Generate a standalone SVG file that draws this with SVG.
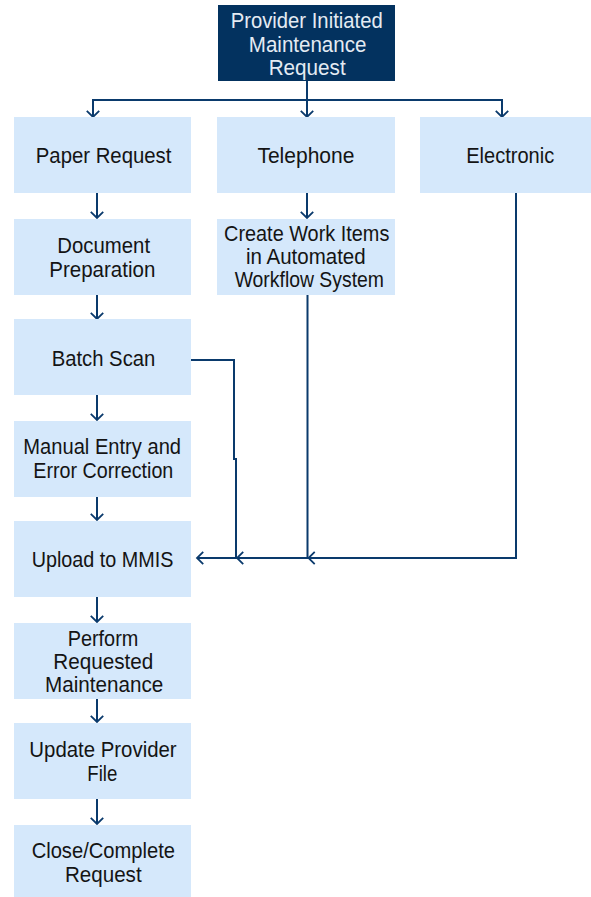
<svg xmlns="http://www.w3.org/2000/svg" width="591" height="897" viewBox="0 0 591 897">
  <style>
    .box { fill: #d5e8fb; }
    .head { fill: #03325f; }
    text { font-family: "Liberation Sans", Arial, sans-serif; font-size: 22.5px; text-anchor: middle; fill: #141414; }
    .head-text { fill: #e4ebf3; }
    .wire { fill: none; stroke: #0a3a6c; stroke-width: 2; }
  </style>
  <defs>
    <marker id="arrow" markerUnits="userSpaceOnUse" markerWidth="16" markerHeight="16" viewBox="-9 -9 11 18" refX="0" refY="0" orient="auto">
      <path d="M-7,-7 L0,0 L-7,7" fill="none" stroke="#0a3a6c" stroke-width="2"/>
    </marker>
  </defs>

  <rect width="591" height="897" fill="#ffffff"/>

  <g id="connectors">
    <!-- fan-out from the request -->
    <path class="wire" d="M307,81 V100 H93 V117" marker-end="url(#arrow)"/>
    <path class="wire" d="M307,81 V117" marker-end="url(#arrow)"/>
    <path class="wire" d="M307,81 V100 H502 V117" marker-end="url(#arrow)"/>
    <!-- paper column -->
    <path class="wire" d="M97,193 V218" marker-end="url(#arrow)"/>
    <path class="wire" d="M97,295 V319" marker-end="url(#arrow)"/>
    <path class="wire" d="M97,395 V420" marker-end="url(#arrow)"/>
    <path class="wire" d="M97,497 V520" marker-end="url(#arrow)"/>
    <path class="wire" d="M97,597 V622" marker-end="url(#arrow)"/>
    <path class="wire" d="M97,699 V722" marker-end="url(#arrow)"/>
    <path class="wire" d="M97,799 V824" marker-end="url(#arrow)"/>
    <!-- telephone column -->
    <path class="wire" d="M307,193 V218" marker-end="url(#arrow)"/>
    <!-- merges into upload -->
    <path class="wire" d="M191,360 H234 V459 H236 V558 H197" marker-end="url(#arrow)"/>
    <path class="wire" d="M307.5,294 V558 H237" marker-end="url(#arrow)"/>
    <path class="wire" d="M516,193 V558 H308.5" marker-end="url(#arrow)"/>
  </g>

  <g id="request">
    <rect class="head" x="218" y="5" width="177" height="76"/>
    <text class="head-text" x="306.7" y="28" textLength="152" lengthAdjust="spacingAndGlyphs">Provider Initiated</text>
    <text class="head-text" x="307.6" y="51.5" textLength="117.6" lengthAdjust="spacingAndGlyphs">Maintenance</text>
    <text class="head-text" x="307.2" y="75" textLength="77" lengthAdjust="spacingAndGlyphs">Request</text>
  </g>

  <g id="paper-request">
    <rect class="box" x="14" y="117" width="177" height="76"/>
    <text x="103.6" y="163" textLength="135.7" lengthAdjust="spacingAndGlyphs">Paper Request</text>
  </g>
  <g id="telephone">
    <rect class="box" x="217" y="117" width="178" height="76"/>
    <text x="305.9" y="163" textLength="97" lengthAdjust="spacingAndGlyphs">Telephone</text>
  </g>
  <g id="electronic">
    <rect class="box" x="420" y="117" width="171" height="76"/>
    <text x="510.2" y="163" textLength="88" lengthAdjust="spacingAndGlyphs">Electronic</text>
  </g>

  <g id="document-preparation">
    <rect class="box" x="14" y="219" width="177" height="76"/>
    <text x="103.7" y="252.5" textLength="92.7" lengthAdjust="spacingAndGlyphs">Document</text>
    <text x="102.3" y="276.5" textLength="106" lengthAdjust="spacingAndGlyphs">Preparation</text>
  </g>
  <g id="create-work-items">
    <rect class="box" x="217" y="219" width="178" height="76"/>
    <text x="306.7" y="240.5" textLength="165.3" lengthAdjust="spacingAndGlyphs">Create Work Items</text>
    <text x="305.8" y="264" textLength="119.7" lengthAdjust="spacingAndGlyphs">in Automated</text>
    <text x="309.3" y="287.3" textLength="149.3" lengthAdjust="spacingAndGlyphs">Workflow System</text>
  </g>

  <g id="batch-scan">
    <rect class="box" x="14" y="319" width="177" height="76"/>
    <text x="103.5" y="365.5" textLength="103.7" lengthAdjust="spacingAndGlyphs">Batch Scan</text>
  </g>
  <g id="manual-entry">
    <rect class="box" x="14" y="421" width="177" height="76"/>
    <text x="102.2" y="454" textLength="157.7" lengthAdjust="spacingAndGlyphs">Manual Entry and</text>
    <text x="103.3" y="478" textLength="140" lengthAdjust="spacingAndGlyphs">Error Correction</text>
  </g>
  <g id="upload-to-mmis">
    <rect class="box" x="14" y="521" width="177" height="76"/>
    <text x="102.5" y="567" textLength="141.7" lengthAdjust="spacingAndGlyphs">Upload to MMIS</text>
  </g>
  <g id="perform-maintenance">
    <rect class="box" x="14" y="623" width="177" height="76"/>
    <text x="103" y="645.5" textLength="70.7" lengthAdjust="spacingAndGlyphs">Perform</text>
    <text x="103.3" y="668.5" textLength="100" lengthAdjust="spacingAndGlyphs">Requested</text>
    <text x="104.2" y="691.5" textLength="118.3" lengthAdjust="spacingAndGlyphs">Maintenance</text>
  </g>
  <g id="update-provider-file">
    <rect class="box" x="14" y="723" width="177" height="76"/>
    <text x="103" y="757.3" textLength="147.3" lengthAdjust="spacingAndGlyphs">Update Provider</text>
    <text x="102.3" y="781" textLength="30" lengthAdjust="spacingAndGlyphs">File</text>
  </g>
  <g id="close-request">
    <rect class="box" x="14" y="825" width="177" height="72"/>
    <text x="103.3" y="858.3" textLength="143.3" lengthAdjust="spacingAndGlyphs">Close/Complete</text>
    <text x="103.3" y="881.7" textLength="76.7" lengthAdjust="spacingAndGlyphs">Request</text>
  </g>
</svg>
